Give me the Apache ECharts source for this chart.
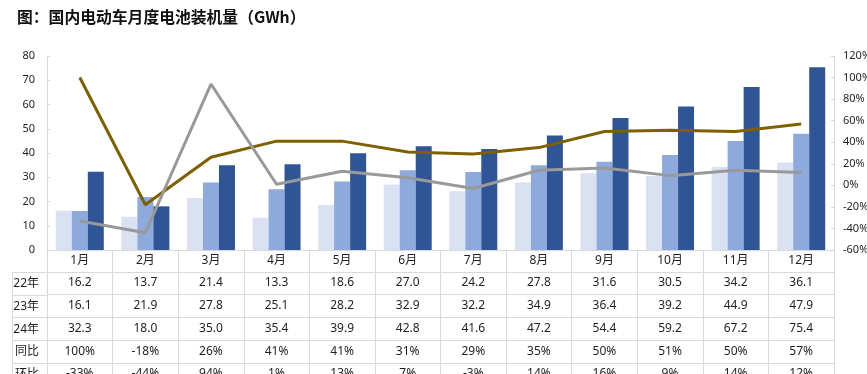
<!DOCTYPE html>
<html>
<head>
<meta charset="utf-8">
<script src="https://cdn.jsdelivr.net/npm/echarts@6/dist/echarts.min.js"></script>
<style>
html,body{margin:0;padding:0;background:#fff;}
#c{width:867px;height:374px;}
</style>
</head>
<body>
<div id="c"></div>
<script>
// ---- data ----
const months = ['1月','2月','3月','4月','5月','6月','7月','8月','9月','10月','11月','12月'];
const y22 = [16.2,13.7,21.4,13.3,18.6,27.0,24.2,27.8,31.6,30.5,34.2,36.1];
const y23 = [16.1,21.9,27.8,25.1,28.2,32.9,32.2,34.9,36.4,39.2,44.9,47.9];
const y24 = [32.3,18.0,35.0,35.4,39.9,42.8,41.6,47.2,54.4,59.2,67.2,75.4];
const yoy = [100,-18,26,41,41,31,29,35,50,51,50,57];   // 同比 %
const mom = [-33,-44,94,1,13,7,-3,14,16,9,14,12];      // 环比 %
const rowNames = ['22年','23年','24年','同比','环比'];
const leftTicks = {min:0, max:80, interval:10};
const rightTicks = {min:-60, max:120, interval:20};
const title = '图：国内电动车月度电池装机量（GWh）';

// ---- layout ----
const W = 867, H = 374;
const gL = 47, gR = 33, gT = 56, gB = 124;
const axisY = H - gB;
const monthRowH = 22, rowH = 22.7;
const tableLeft = 12;
const gridColor = '#D9D9D9';
const txt = '#1f1f1f';
const FONT = 'Noto Sans, Noto Sans CJK SC, sans-serif';

const rowVals = [
  y22.map(v => v.toFixed(1)),
  y23.map(v => v.toFixed(1)),
  y24.map(v => v.toFixed(1)),
  yoy.map(v => v + '%'),
  mom.map(v => v + '%')
];

const xAxes = [{
  type:'category', data: months, gridIndex:0, position:'bottom',
  axisLine:{show:true, onZero:false, lineStyle:{color:gridColor, width:1}},
  axisTick:{show:true, interval:0, length:monthRowH, lineStyle:{color:gridColor}},
  axisLabel:{interval:0, margin:5, fontSize:12, color:txt, fontFamily:FONT}
}];
rowVals.forEach((vals, i) => {
  xAxes.push({
    type:'category', data: months, gridIndex:0, position:'bottom',
    offset: monthRowH + i * rowH,
    axisLine:{show:true, onZero:false, lineStyle:{color:gridColor, width:1}},
    axisTick:{show:true, interval:0, length:rowH, lineStyle:{color:gridColor}},
    axisLabel:{interval:0, margin:5, fontSize:12, color:txt, fontFamily:FONT,
      formatter: (v, idx) => vals[idx]}
  });
});

// table left column: borders and row names
const graphics = [];
for (let i = 0; i <= rowNames.length; i++) {
  const y = Math.round(axisY + monthRowH + i * rowH) + 0.5;
  graphics.push({type:'line', shape:{x1:tableLeft, y1:y, x2:gL, y2:y}, style:{stroke:gridColor, lineWidth:1}, silent:true});
}
graphics.push({type:'line', shape:{x1:tableLeft+0.5, y1:axisY+monthRowH, x2:tableLeft+0.5, y2:H}, style:{stroke:gridColor, lineWidth:1}, silent:true});
rowNames.forEach((n, i) => {
  graphics.push({type:'text', x: gL - 8, y: axisY + monthRowH + i * rowH + rowH / 2 + 0.5,
    style:{text:n, fill:txt, font:'12px ' + FONT, textAlign:'right', textVerticalAlign:'middle', verticalAlign:'middle'}, silent:true});
});

const chart = echarts.init(document.getElementById('c'), null, {renderer:'canvas', width:W, height:H});
chart.setOption({
  backgroundColor:'#fff',
  animation:false,
  title:{text:title, left:12, top:4, textStyle:{fontSize:15.8, fontWeight:'bold', color:'#111', fontFamily:'Noto Sans CJK SC, sans-serif'}},
  grid:{left:gL, right:gR, top:gT, bottom:gB, containLabel:false, outerBoundsMode:'none'},
  xAxis: xAxes,
  yAxis:[
    {type:'value', min:leftTicks.min, max:leftTicks.max, interval:leftTicks.interval,
     axisLine:{show:true, onZero:false, lineStyle:{color:gridColor}},
     axisTick:{show:true, inside:true, length:3, lineStyle:{color:gridColor}},
     splitLine:{show:false},
     axisLabel:{margin:12, fontSize:11, color:txt, fontFamily:FONT}},
    {type:'value', min:rightTicks.min, max:rightTicks.max, interval:rightTicks.interval, position:'right',
     axisLine:{show:true, onZero:false, lineStyle:{color:gridColor}},
     axisTick:{show:true, inside:true, length:3, lineStyle:{color:gridColor}},
     splitLine:{show:false},
     axisLabel:{margin:9, fontSize:11, color:txt, fontFamily:FONT, formatter:'{value}%'}}
  ],
  graphic: graphics,
  series:[
    {name:'22年', type:'bar', data:y22, xAxisIndex:0, yAxisIndex:0, barWidth:16, barGap:'0%', itemStyle:{color:'#DAE1F3'}},
    {name:'23年', type:'bar', data:y23, xAxisIndex:0, yAxisIndex:0, barWidth:16, barGap:'0%', itemStyle:{color:'#8EA9DB'}},
    {name:'24年', type:'bar', data:y24, xAxisIndex:0, yAxisIndex:0, barWidth:16, barGap:'0%', itemStyle:{color:'#2F5597'}},
    {name:'同比', type:'line', data:yoy, xAxisIndex:0, yAxisIndex:1, symbol:'none', lineStyle:{color:'#7F6000', width:3}, itemStyle:{color:'#7F6000'}, z:3},
    {name:'环比', type:'line', data:mom, xAxisIndex:0, yAxisIndex:1, symbol:'none', lineStyle:{color:'#999999', width:3}, itemStyle:{color:'#999999'}, z:4}
  ]
});
</script>
</body>
</html>
